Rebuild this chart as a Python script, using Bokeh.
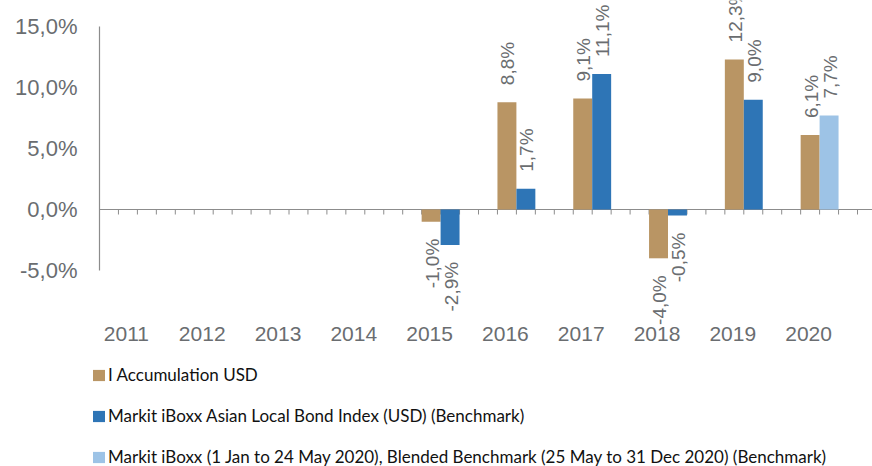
import math
from bokeh.plotting import figure
from bokeh.models import Range1d, FixedTicker, Legend, LegendItem, ColumnDataSource
from bokeh.core.properties import value
from bokeh.embed import file_html
from bokeh.resources import INLINE

# ---------------- data ----------------
years = ["2011", "2012", "2013", "2014", "2015", "2016", "2017", "2018", "2019", "2020"]
fund_years = ["2015", "2016", "2017", "2018", "2019", "2020"]
fund_values = [-1.0, 8.8, 9.1, -4.0, 12.3, 6.1]
bench_years = ["2015", "2016", "2017", "2018", "2019"]
bench_values = [-2.9, 1.7, 11.1, -0.5, 9.0]
blend_years = ["2020"]
blend_values = [7.7]
y_ticks = [-5, 0, 5, 10, 15]
y_tick_labels = ["-5,0%", "0,0%", "5,0%", "10,0%", "15,0%"]
series_names = [
    "I Accumulation USD",
    "Markit iBoxx Asian Local Bond Index (USD) (Benchmark)",
    "Markit iBoxx (1 Jan to 24 May 2020), Blended Benchmark (25 May to 31 Dec 2020) (Benchmark)",
]
colors = ["#b99564", "#2e75b6", "#9dc3e6"]

# ---------------- layout ----------------
W, H = 872, 466
FRAME_LEFT = 88
AXIS_PX = 99
ZERO_PX = 209.0
PX_PER_PCT = 12.2
CAT_PX = 75.8
BAR_W = 0.25
GAP_PX = 17.0
TEXT_GRAY = "#6a6d70"
AXIS_GRAY = "#8c8c8c"
FONT = "Arial"

y_end = ZERO_PX / PX_PER_PCT
y_start = -(H - ZERO_PX) / PX_PER_PCT
x_axis0 = -0.5
x_start = x_axis0 - (AXIS_PX - FRAME_LEFT) / CAT_PX
x_end = x_start + (W - FRAME_LEFT) / CAT_PX

p = figure(width=W, height=H, x_range=Range1d(x_start, x_end), y_range=Range1d(y_start, y_end),
           x_axis_location=None, y_axis_location="left",
           output_backend="svg", toolbar_location=None,
           min_border_left=FRAME_LEFT, min_border_right=0, min_border_top=0, min_border_bottom=0)
p.outline_line_color = None
p.grid.visible = False
p.background_fill_color = "white"
p.border_fill_color = "white"

ax = p.yaxis[0]
ax.ticker = FixedTicker(ticks=y_ticks)
ax.major_label_overrides = {t: l for t, l in zip(y_ticks, y_tick_labels)}
ax.axis_line_color = None
ax.major_tick_line_color = None
ax.minor_tick_line_color = None
ax.major_tick_out = 0
ax.major_tick_in = 0
ax.major_label_standoff = 11
ax.major_label_text_font = FONT
ax.major_label_text_font_size = "22px"
ax.major_label_text_color = TEXT_GRAY

# vertical value-axis line, zero line and small tick marks
p.segment(x0=[x_axis0], y0=[min(y_ticks)], x1=[x_axis0], y1=[max(y_ticks)],
          line_color=AXIS_GRAY, line_width=1.2)
p.segment(x0=[x_axis0], y0=[0], x1=[x_end], y1=[0], line_color=AXIS_GRAY, line_width=1.2)
tick_x = [x_axis0 + k * BAR_W for k in range(int(round(len(years) / BAR_W)) + 1)]
p.ray(x=tick_x, y=[0] * len(tick_x), length=5, length_units="screen", angle=-math.pi / 2,
      line_color=AXIS_GRAY, line_width=1)

def idx(yr):
    return years.index(yr)

def bars(yrs, vals, offset, color):
    src = ColumnDataSource(dict(x=[idx(y) + offset for y in yrs], top=vals))
    r = p.vbar(x="x", top="top", bottom=0, width=BAR_W, source=src,
               fill_color=color, line_color=None)
    return r

def labels(yrs, vals, offset):
    gap = GAP_PX / PX_PER_PCT
    pos = [(idx(y) + offset, v + gap, f"{v:.1f}%".replace(".", ",")) for y, v in zip(yrs, vals) if v >= 0]
    neg = [(idx(y) + offset, v - gap, f"{v:.1f}%".replace(".", ",")) for y, v in zip(yrs, vals) if v < 0]
    for items, align in ((pos, "left"), (neg, "right")):
        if not items:
            continue
        p.text(x=[i[0] for i in items], y=[i[1] for i in items], text=[i[2] for i in items],
               angle=math.pi / 2, text_align=align, text_baseline="middle", x_offset=1,
               text_font=value(FONT), text_font_size="19px", text_color=TEXT_GRAY)

r1 = bars(fund_years, fund_values, -BAR_W / 2, colors[0])
r2 = bars(bench_years, bench_values, BAR_W / 2, colors[1])
r3 = bars(blend_years, blend_values, BAR_W / 2, colors[2])
labels(fund_years, fund_values, -BAR_W / 2)
labels(bench_years, bench_values, BAR_W / 2)
labels(blend_years, blend_values, BAR_W / 2)

# category labels
label_y = -(333 - ZERO_PX) / PX_PER_PCT
p.text(x=list(range(len(years))), y=[label_y] * len(years), text=years,
       text_align="center", text_baseline="middle", x_offset=-11,
       text_font=value(FONT), text_font_size="21px", text_color=TEXT_GRAY)

legend = Legend(items=[LegendItem(label=series_names[0], renderers=[r1]),
                       LegendItem(label=series_names[1], renderers=[r2]),
                       LegendItem(label=series_names[2], renderers=[r3])],
                location=(3, -1), orientation="vertical",
                glyph_width=15, glyph_height=14, label_standoff=2,
                spacing=20, label_height=20, padding=0, margin=0,
                border_line_color=None, background_fill_alpha=0,
                label_text_font="Lato", label_text_font_size="17px", label_text_color="#111111")
p.add_layout(legend)

open("out.html", "w").write(file_html(p, INLINE))
